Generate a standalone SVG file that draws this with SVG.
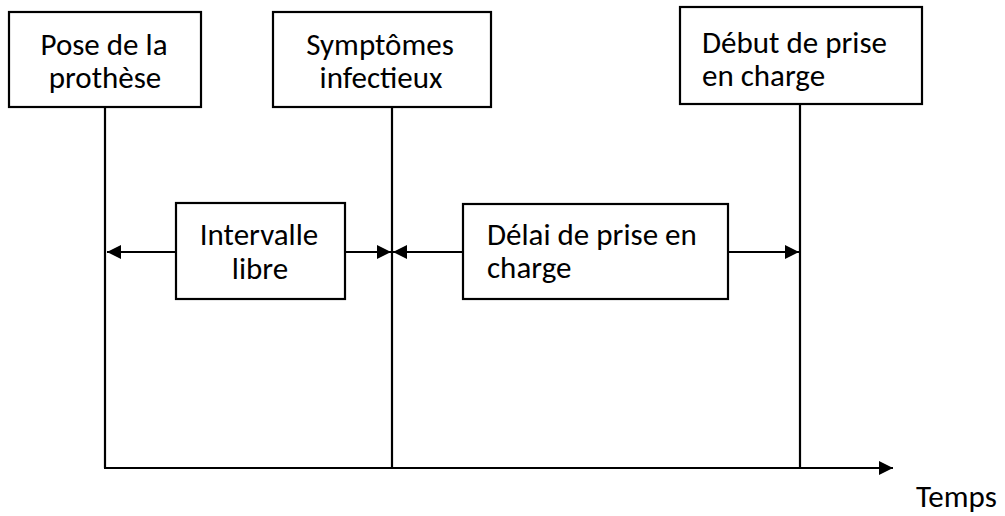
<svg xmlns="http://www.w3.org/2000/svg" width="1005" height="516" viewBox="0 0 1005 516">
<style>
.box{fill:#fff;stroke:#000;stroke-width:2.2}
.ln{stroke:#000;stroke-width:2.2;fill:none}
.t{font-family:Carlito,Lato,"Liberation Sans",sans-serif;font-size:31px;fill:#000}
.c{text-anchor:middle}
</style>
<defs>
<marker id="ah" viewBox="0 0 10 10" refX="10" refY="5" markerWidth="15" markerHeight="14" markerUnits="userSpaceOnUse" orient="auto-start-reverse">
<path d="M0,0 L10,5 L0,10 Z" fill="#000"/>
</marker>
</defs>
<g id="connectors">
<line class="ln" x1="105" y1="107" x2="105" y2="468"/>
<line class="ln" x1="392" y1="107" x2="392" y2="468"/>
<line class="ln" x1="800" y1="104" x2="800" y2="468"/>
<line class="ln" x1="104" y1="468" x2="893" y2="468" marker-end="url(#ah)"/>
<line class="ln" x1="176" y1="252" x2="107" y2="252" marker-end="url(#ah)"/>
<line class="ln" x1="345" y1="252" x2="391" y2="252" marker-end="url(#ah)"/>
<line class="ln" x1="463" y1="252" x2="393" y2="252" marker-end="url(#ah)"/>
<line class="ln" x1="728" y1="252" x2="799" y2="252" marker-end="url(#ah)"/>
</g>
<g id="pose">
<rect class="box" x="9" y="12" width="192" height="95"/>
<text class="t c" x="104" y="55">Pose de la</text>
<text class="t c" x="105" y="88">prothèse</text>
</g>
<g id="symptomes">
<rect class="box" x="273" y="12" width="218" height="95"/>
<text class="t c" x="380" y="55">Symptômes</text>
<text class="t c" x="381" y="88">infectieux</text>
</g>
<g id="debut">
<rect class="box" x="680" y="7" width="242" height="97"/>
<text class="t" x="702" y="53">Début de prise</text>
<text class="t" x="702" y="86">en charge</text>
</g>
<g id="intervalle">
<rect class="box" x="176" y="203" width="169" height="96"/>
<text class="t c" x="259" y="245">Intervalle</text>
<text class="t c" x="260" y="279">libre</text>
</g>
<g id="delai">
<rect class="box" x="463" y="204" width="265" height="95"/>
<text class="t" x="487" y="245">Délai de prise en</text>
<text class="t" x="487" y="278">charge</text>
</g>
<g id="temps">
<text class="t" x="916" y="507">Temps</text>
</g>
</svg>
